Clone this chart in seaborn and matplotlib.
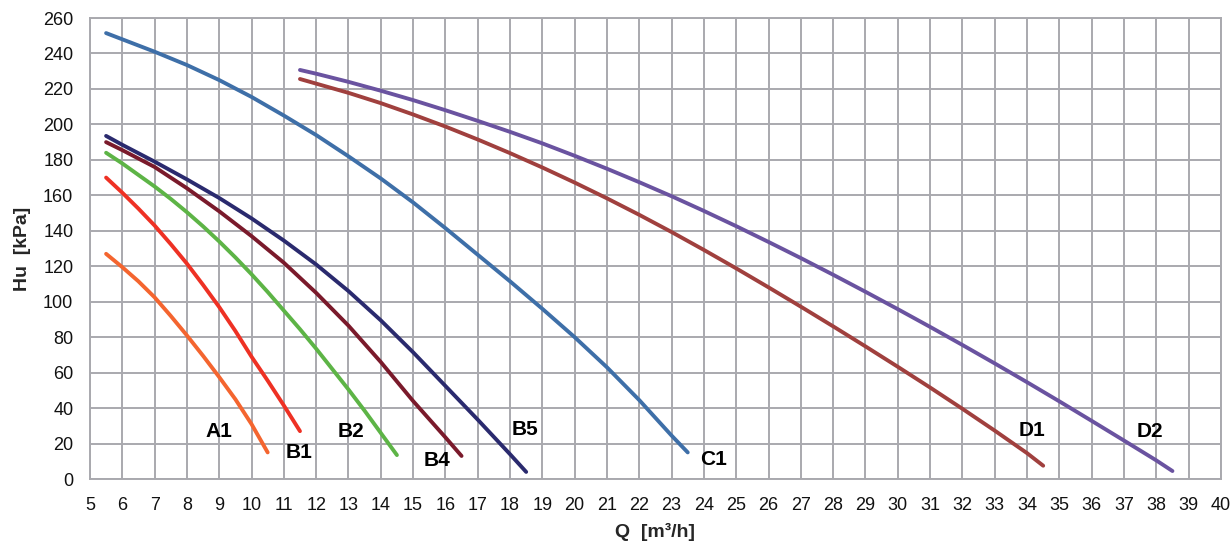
import pandas as pd
import numpy as np
import matplotlib
matplotlib.use("Agg")
import matplotlib.pyplot as plt
import seaborn as sns

# datos de las curvas
a1_q = [5.5, 6, 6.5, 7, 7.5, 8, 8.5, 9, 9.5, 10, 10.5]
a1_h = [127, 119.5, 111.5, 102.5, 92, 81, 69.5, 57.5, 45, 31, 15]

b1_q = [5.5, 6, 6.5, 7, 7.5, 8, 8.5, 9, 9.5, 10, 10.5, 11, 11.5]
b1_h = [170, 161.5, 152.5, 143, 132.5, 121.5, 109.5, 97, 83.5, 69, 55.5, 41.5, 27]

b2_q = [5.5, 6, 6.5, 7, 7.5, 8, 8.5, 9, 9.5, 10, 10.5, 11, 11.5, 12, 12.5, 13, 13.5, 14, 14.5]
b2_h = [184, 178, 171.5, 165, 158, 150.5, 142.5, 134, 125, 115.5, 105.5, 95, 84.5, 73.5, 62, 50.5,
        38.5, 26, 13.5]

b4_q = [5.5, 6, 7, 8, 9, 10, 11, 12, 13, 14, 15, 16, 16.5]
b4_h = [190, 185.5, 176, 164, 151, 137, 122, 105, 86.5, 66, 44, 23.5, 13]

b5_q = [5.5, 6, 7, 8, 9, 10, 11, 12, 13, 14, 15, 16, 17, 18, 18.5]
b5_h = [193.5, 188.5, 179, 169, 158.5, 147, 134.5, 121, 106, 89.5, 71.5, 52.5, 33.5, 14, 4]

c1_q = [5.5, 6, 7, 8, 9, 10, 11, 12, 13, 14, 15, 16, 17, 18, 19, 20, 21, 22, 23, 23.5]
c1_h = [251.5, 248, 241, 233.5, 225, 215.5, 205, 194, 182, 169.5, 156, 141.5, 126.5, 111.5, 96, 80,
        63, 44.5, 24.5, 15]

d1_q = [11.5, 12, 13, 14, 15, 16, 17, 18, 19, 20, 21, 22, 23, 24, 25, 26, 27, 28, 29, 30, 31, 32,
        33, 34, 34.5]
d1_h = [225.6, 223, 217.8, 212, 205.6, 198.8, 191.5, 183.8, 175.7, 167.2, 158.3, 149, 139.3, 129.2,
        118.8, 108.1, 97.2, 86.1, 74.8, 63.3, 51.6, 39.6, 27.3, 14.6, 7.5]

d2_q = [11.5, 12, 13, 14, 15, 16, 17, 18, 19, 20, 21, 22, 23, 24, 25, 26, 27, 28, 29, 30, 31, 32,
        33, 34, 35, 36, 37, 38, 38.5]
d2_h = [230.7, 228.6, 224, 219, 213.7, 208, 202, 195.8, 189.3, 182.3, 175, 167.4, 159.5, 151.2,
        142.6, 133.7, 124.6, 115.2, 105.6, 95.8, 85.8, 75.6, 65.2, 54.6, 43.8, 32.8, 21.7, 10.5, 4.5]

curvas = {
    'A1': (a1_q, a1_h), 'B1': (b1_q, b1_h), 'B2': (b2_q, b2_h), 'B4': (b4_q, b4_h),
    'B5': (b5_q, b5_h), 'C1': (c1_q, c1_h), 'D1': (d1_q, d1_h), 'D2': (d2_q, d2_h),
}
colores = {
    'A1': '#F4652F', 'B1': '#EE3124', 'B2': '#5DB446', 'B4': '#7A1A2B',
    'B5': '#2A2A6E', 'C1': '#3E6FA8', 'D1': '#A0403E', 'D2': '#6A53A0',
}
# posicion de las etiquetas (Q, Hu)
etiquetas = {
    'A1': (9.0, 27), 'B1': (11.48, 14.7), 'B2': (13.09, 27), 'B4': (15.74, 10.2),
    'B5': (18.45, 27.9), 'C1': (24.3, 10.8), 'D1': (34.14, 27.6), 'D2': (37.8, 26.7),
}

df = pd.concat([pd.DataFrame({'Q': q, 'Hu': h, 'curva': k}) for k, (q, h) in curvas.items()],
               ignore_index=True)

sns.set_style("white")
plt.rcParams['font.family'] = ['Liberation Sans', 'DejaVu Sans']

fig = plt.figure(figsize=(12.32, 5.46), dpi=100)
ax = fig.add_axes([0.073, 0.1227, 0.918, 0.8443])

gris = '#A9A9AE'
ax.set_xlim(5, 40)
ax.set_ylim(0, 260)
ax.set_xticks(np.arange(5, 41, 1))
ax.set_yticks(np.arange(0, 261, 20))
ax.grid(True, color=gris, linewidth=1.4)
ax.set_axisbelow(True)
for s in ax.spines.values():
    s.set_color(gris)
    s.set_linewidth(1.4)

sns.lineplot(data=df, x='Q', y='Hu', hue='curva', palette=colores, sort=False,
             estimator=None, linewidth=2.8, legend=False, ax=ax)
for ln in ax.lines:
    ln.set_solid_capstyle('round')
    ln.set_solid_joinstyle('round')

for k, (q, h) in etiquetas.items():
    ax.text(q, h, k, fontsize=15, fontweight='bold', ha='center', va='center', color='black')

ax.tick_params(axis='x', length=3.6, width=1.4, color=gris, labelsize=13, pad=9.5, labelcolor='#111111')
ax.tick_params(axis='y', length=0, labelsize=13, pad=12, labelcolor='#111111')

ax.set_xlabel('Q  [m³/h]', fontsize=14, fontweight='bold', labelpad=6)
ax.set_ylabel('Hu  [kPa]', fontsize=14, fontweight='bold', labelpad=9)

fig.savefig('out.png', dpi=100)
